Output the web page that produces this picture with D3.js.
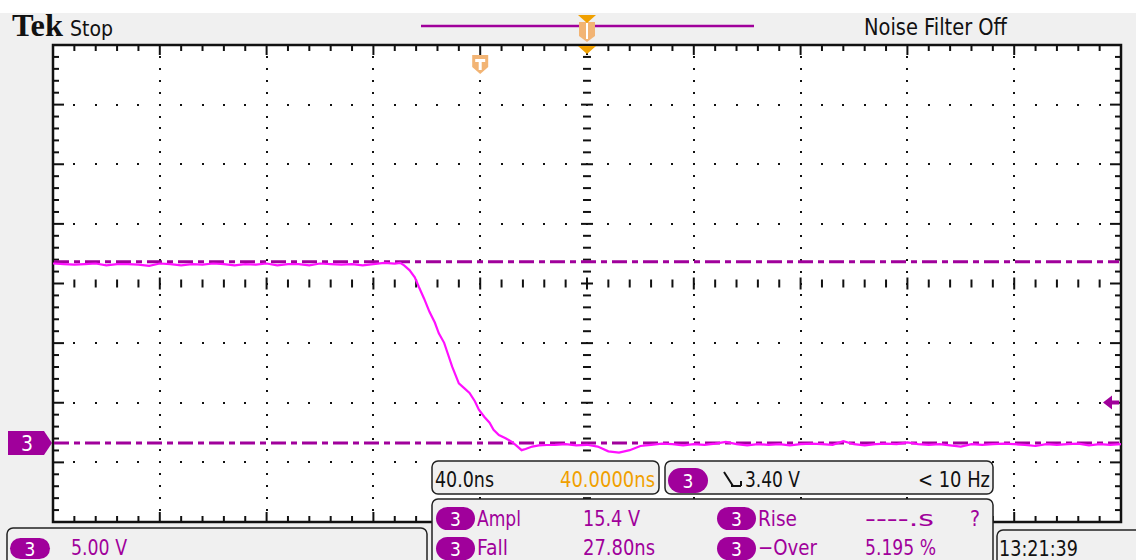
<!DOCTYPE html>
<html><head><meta charset="utf-8">
<script src="https://cdn.jsdelivr.net/npm/d3@7"></script>
<style>body{margin:0;background:#fff}svg{display:block}</style>
</head><body><svg id="c" width="1136" height="560"></svg>
<script>
// ---- data ----
const nsPerDiv = 40;
const voltsPerDiv = 5;
const groundDiv = -2.675;          // ch3 ground position (divisions from centre)
const timeDomain = [-160, 240];    // ns, trigger at 0, horizontal position 40 ns
const highRefV = 15.2;
const lowRefV = 0;
const triggerLevelV = 3.40;

const highTimes = [-160,-156,-152,-148,-144,-140,-136,-132,-128,-124,-120,-116,-112,-108,-104,-100,-96,-92,-88,-84,-80,-76,-72,-68,-64,-60,-56,-52,-48,-44,-40,-36,-32];
const highVolts = [15.05,15.0,14.95,15.0,15.05,14.9,15.0,15.0,14.95,14.85,15.05,15.0,14.9,15.0,14.95,15.05,15.0,14.9,15.0,14.95,15.05,14.9,15.0,15.0,14.9,15.05,15.0,14.95,15.0,14.9,15.0,15.1,15.05];
const fallTimes = [-30,-28.5,-26.5,-24.5,-23,-21,-19,-17,-15.5,-13.5,-12,-10.5,-8,-6,-4,-2,-0.5,1.5,3.5,5,7,9.5,12,14,15.5,17,19.5,22,25];
const fallVolts = [15.1,14.9,14.5,13.9,13.1,12.1,11.0,10.1,9.2,8.4,7.4,6.4,5.0,4.6,4.2,3.5,2.8,2.2,1.7,1.1,0.67,0.4,0.08,-0.3,-0.6,-0.5,-0.3,-0.2,-0.17];
const lowTimes = [28,32,36,40,44,48,52,56,60,64,68,72,76,80,84,88,92,96,100,104,108,112,116,120,124,128,132,136,140,144,148,152,156,160,164,168,172,176,180,184,188,192,196,200,204,208,212,216,220,224,228,232,236,240];
const lowVolts = [-0.15,-0.1,-0.2,-0.15,-0.3,-0.7,-0.8,-0.6,-0.25,-0.15,-0.05,-0.1,-0.2,-0.1,-0.15,-0.05,0.1,-0.1,-0.2,-0.1,-0.15,-0.1,-0.2,-0.1,-0.05,-0.1,-0.15,0.15,-0.1,-0.2,-0.1,-0.05,-0.1,0.05,-0.1,-0.15,-0.1,-0.2,-0.3,-0.1,-0.15,-0.1,-0.05,-0.1,-0.15,-0.25,-0.1,-0.15,-0.1,-0.05,-0.2,-0.1,-0.15,-0.1];

const headerLabels = {tek: "Tek", state: "Stop", filter: "Noise Filter Off"};
const timebaseLabels = ["40.0ns", "40.0000ns"];
const triggerLabels = ["3", "3.40 V", "< 10 Hz"];
const measNames = ["Ampl", "Fall", "Rise", "\u2212Over"];
const measValues = ["15.4 V", "27.80ns", "----.s", "5.195 %"];
const chScaleLabel = "5.00 V";
const clockLabel = "13:21:39";

// ---- style ----
const PURPLE = "#a0009b", TRACE = "#ff10ff", ORANGE = "#f0a000", LORANGE = "#f2b474";
const BG = "#f0f0f0", INK = "#111";
const FONT = "'DejaVu Sans Condensed','Liberation Sans Narrow','DejaVu Sans',sans-serif";

const svg = d3.select("#c");
const L = 53, R = 1121, T = 45, B = 522;

const x = d3.scaleLinear().domain(timeDomain).range([L, R]);
const y = d3.scaleLinear().domain([(-4 - groundDiv) * voltsPerDiv, (4 - groundDiv) * voltsPerDiv]).range([B, T]);

// background
svg.append("rect").attr("x", 0).attr("y", 0).attr("width", 1136).attr("height", 560).attr("fill", "#fff");
svg.append("rect").attr("x", 0).attr("y", 13).attr("width", 1136).attr("height", 547).attr("fill", BG);
svg.append("rect").attr("x", L).attr("y", T).attr("width", R - L).attr("height", B - T).attr("fill", "#fff");

const g = svg.append("g");
const xMinorStep = nsPerDiv / 5, yMinorStep = voltsPerDiv / 5;
const xMajors = d3.range(0, 11).map(i => timeDomain[0] + i * nsPerDiv);
const xMinors = d3.range(0, 51).map(i => timeDomain[0] + i * xMinorStep);
const y0 = y.domain()[0];
const yMajors = d3.range(0, 9).map(i => y0 + i * voltsPerDiv);
const yMinors = d3.range(0, 41).map(i => y0 + i * yMinorStep);
const xCenter = xMajors[5], yCenter = yMajors[4];

// dotted grid
xMajors.slice(1, -1).filter(v => v !== xCenter).forEach(v => {
  yMinors.slice(1, -1).forEach(w => {
    g.append("rect").attr("x", Math.round(x(v)) - 1).attr("y", Math.round(y(w)) - 1).attr("width", 2).attr("height", 2).attr("fill", INK);
  });
});
yMajors.slice(1, -1).filter(v => v !== yCenter).forEach(w => {
  xMinors.slice(1, -1).forEach(v => {
    g.append("rect").attr("x", Math.round(x(v)) - 1).attr("y", Math.round(y(w)) - 1).attr("width", 2).attr("height", 2).attr("fill", INK);
  });
});
// centre axes ticks
xMinors.slice(1, -1).forEach((v, i) => {
  const major = (i + 1) % 5 === 0;
  const h = major ? 6 : 4;
  g.append("line").attr("x1", x(v)).attr("x2", x(v)).attr("y1", y(yCenter) - h).attr("y2", y(yCenter) + h)
    .attr("stroke", INK).attr("stroke-width", 2);
});
yMinors.slice(1, -1).forEach((w, i) => {
  const major = (i + 1) % 5 === 0;
  const h = major ? 6 : 4;
  g.append("line").attr("y1", y(w)).attr("y2", y(w)).attr("x1", x(xCenter) - h).attr("x2", x(xCenter) + h)
    .attr("stroke", INK).attr("stroke-width", 2);
});
// border ticks
xMinors.slice(1, -1).forEach((v, i) => {
  const len = (i + 1) % 5 === 0 ? 10 : 6;
  g.append("line").attr("x1", x(v)).attr("x2", x(v)).attr("y1", T).attr("y2", T + len).attr("stroke", INK).attr("stroke-width", 2);
  g.append("line").attr("x1", x(v)).attr("x2", x(v)).attr("y1", B).attr("y2", B - len).attr("stroke", INK).attr("stroke-width", 2);
});
yMinors.slice(1, -1).forEach((w, i) => {
  const len = (i + 1) % 5 === 0 ? 11 : 6;
  g.append("line").attr("y1", y(w)).attr("y2", y(w)).attr("x1", L).attr("x2", L + len).attr("stroke", INK).attr("stroke-width", 2);
  g.append("line").attr("y1", y(w)).attr("y2", y(w)).attr("x1", R).attr("x2", R - len).attr("stroke", INK).attr("stroke-width", 2);
});
svg.append("rect").attr("x", L).attr("y", T).attr("width", R - L).attr("height", B - T)
  .attr("fill", "none").attr("stroke", INK).attr("stroke-width", 2.5);

// reference dashed lines
[highRefV, lowRefV].forEach(v => {
  svg.append("line").attr("x1", L + 1).attr("x2", R - 2).attr("y1", y(v)).attr("y2", y(v))
    .attr("stroke", PURPLE).attr("stroke-width", 3).attr("stroke-dasharray", "15,5,6,5");
});

// trace
const times = highTimes.concat(fallTimes, lowTimes);
const volts = highVolts.concat(fallVolts, lowVolts);
const pts = times.map((t, i) => [t, volts[i]]);
svg.append("path").attr("d", d3.line().x(d => x(d[0])).y(d => y(d[1]))(pts))
  .attr("fill", "none").attr("stroke", TRACE).attr("stroke-width", 2.2);

// ch3 ground marker
const gy = y(lowRefV);
svg.append("path").attr("d", `M8,${gy-12} H44 L52,${gy} L44,${gy+12} H8 Z`).attr("fill", PURPLE);
svg.append("text").attr("x", 27).attr("y", gy + 8).attr("text-anchor", "middle").attr("fill", "#fff")
  .attr("font-family", FONT).attr("font-size", 21).text("3");
// trigger level arrow
const ty = y(triggerLevelV);
svg.append("path").attr("d", `M1103,${ty} L1112,${ty-7} V${ty-2} H1119 V${ty+2} H1112 V${ty+7} Z`).attr("fill", PURPLE);

// top record bar & trigger markers
svg.append("line").attr("x1", 421).attr("x2", 754).attr("y1", 26).attr("y2", 26).attr("stroke", PURPLE).attr("stroke-width", 2.5);
const cx = x(xCenter);
svg.append("path").attr("d", `M${cx-8},22 H${cx+8} V36 L${cx},42 L${cx-8},36 Z`).attr("fill", LORANGE);
svg.append("line").attr("x1", cx).attr("x2", cx).attr("y1", 23).attr("y2", 39).attr("stroke", "#fff").attr("stroke-width", 2);
svg.append("path").attr("d", `M${cx-9},15 H${cx+9} L${cx},23 Z`).attr("fill", ORANGE);
svg.append("path").attr("d", `M${cx-9},46 H${cx+9} L${cx},54 Z`).attr("fill", ORANGE);
const tx = x(0);
svg.append("path").attr("d", `M${tx-8},55 H${tx+8} V67 L${tx},74 L${tx-8},67 Z`).attr("fill", LORANGE);
svg.append("path").attr("d", `M${tx-5},59 H${tx+5} V62 H${tx+1.5} V70 H${tx-1.5} V62 H${tx-5} Z`).attr("fill", "#fff");

// helpers
function txt(s, x0, base, size, color, width, opts = {}) {
  const t = svg.append("text").attr("x", x0).attr("y", base).attr("font-size", size).attr("fill", color)
    .attr("font-family", opts.family || FONT).text(s);
  if (opts.weight) t.attr("font-weight", opts.weight);
  if (width) t.attr("textLength", width).attr("lengthAdjust", "spacingAndGlyphs");
  return t;
}
function box(x0, y0, w, h) {
  svg.append("rect").attr("x", x0).attr("y", y0).attr("width", w).attr("height", h).attr("rx", 6)
    .attr("fill", BG).attr("stroke", "#222").attr("stroke-width", 1.5);
}
function pill(x0, y0, w, h, label) {
  svg.append("rect").attr("x", x0).attr("y", y0).attr("width", w).attr("height", h).attr("rx", h / 2).attr("fill", PURPLE);
  svg.append("text").attr("x", x0 + w / 2).attr("y", y0 + h / 2 + 7).attr("text-anchor", "middle").attr("fill", "#fff")
    .attr("font-family", FONT).attr("font-size", 19).text(label);
}

// header
txt(headerLabels.tek, 12, 36, 31, INK, 51, {family: "'Liberation Serif','DejaVu Serif',serif", weight: "bold"});
txt(headerLabels.state, 70, 36, 22, INK, 43);
txt(headerLabels.filter, 864, 35, 23, INK, 143);

// bottom boxes
box(7, 528, 420, 45);
pill(10, 538, 40, 21, "3");
txt(chScaleLabel, 71, 555, 22, PURPLE, 56);

box(432, 461, 227, 33);
txt(timebaseLabels[0], 435, 487, 21, INK, 59);
txt(timebaseLabels[1], 560, 487, 21, ORANGE, 95);

box(665, 461, 328, 33);
pill(668, 468, 40, 25, triggerLabels[0]);
svg.append("path").attr("d", "M724,472 L733,486 M731,486 H741 M741,486 V481").attr("stroke", INK).attr("stroke-width", 2).attr("fill", "none");
txt(triggerLabels[1], 745, 487, 21, INK, 55);
txt(triggerLabels[2], 918, 487, 21, INK, 72);

box(432, 499, 561, 70);
pill(436, 507, 39, 23, "3");
pill(436, 537, 39, 23, "3");
pill(717, 507, 39, 23, "3");
pill(717, 537, 39, 23, "3");
txt(measNames[0], 477, 526, 21, PURPLE, 44);
txt(measNames[1], 477, 555, 21, PURPLE, 31);
txt(measNames[2], 758, 526, 21, PURPLE, 39);
txt(measNames[3], 758, 555, 21, PURPLE, 59);
txt(measValues[0], 583, 526, 21, PURPLE, 57);
txt(measValues[1], 583, 555, 21, PURPLE, 72);
txt(measValues[2], 865, 526, 21, PURPLE, 69);
txt("?", 970, 526, 21, PURPLE, 10);
txt(measValues[3], 865, 555, 21, PURPLE, 71);

box(997, 530, 150, 40);
txt(clockLabel, 999, 556, 21, INK, 79);
</script></body></html>
